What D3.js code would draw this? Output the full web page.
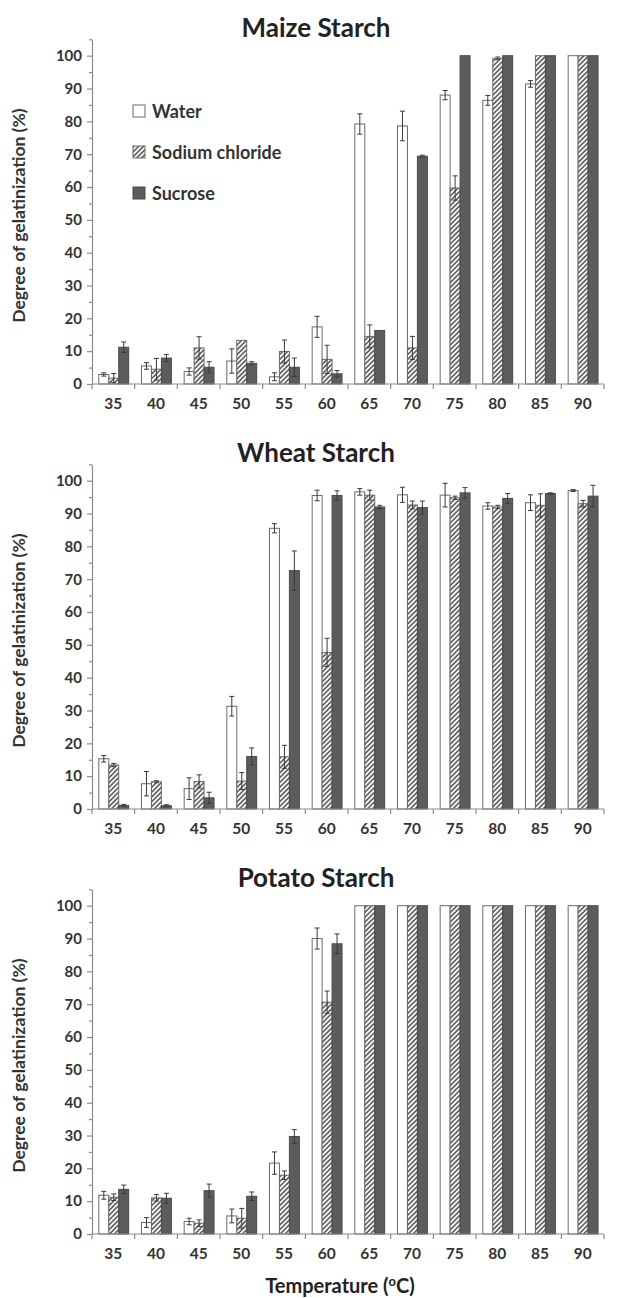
<!DOCTYPE html>
<html>
<head>
<meta charset="utf-8">
<script src="https://cdn.jsdelivr.net/npm/d3@7.9.0/dist/d3.min.js"></script>
<style>
  body { margin: 0; background: #fff; }
  svg text { font-family: Lato, "Open Sans", sans-serif; }
</style>
</head>
<body>
<svg id="chart" width="626" height="1298"></svg>
<script>
const temps = [35, 40, 45, 50, 55, 60, 65, 70, 75, 80, 85, 90];
const seriesNames = ['Water', 'Sodium chloride', 'Sucrose'];
const yTicks = [0, 10, 20, 30, 40, 50, 60, 70, 80, 90, 100];

// maize starch
const maizeWater = [2.9, 5.5, 3.8, 7.0, 2.2, 17.4, 79.2, 78.6, 88.0, 86.4, 91.4, 100];
const maizeWaterErr = [0.5, 1.0, 1.1, 3.7, 1.2, 3.2, 3.1, 4.5, 1.4, 1.5, 1.0, 0];
const maizeSalt = [1.8, 4.5, 11.0, 13.3, 9.9, 7.5, 14.5, 11.0, 59.7, 99.2, 100, 100];
const maizeSaltErr = [1.4, 3.3, 3.4, 0, 3.5, 4.3, 3.5, 3.5, 3.7, 0.4, 0, 0];
const maizeSucrose = [11.2, 7.9, 5.1, 6.3, 5.1, 3.1, 16.3, 69.4, 100, 100, 100, 100];
const maizeSucroseErr = [1.6, 1.1, 1.7, 0.5, 2.8, 1.0, 0, 0.3, 0, 0, 0, 0];

// wheat starch
const wheatWater = [15.3, 7.7, 6.2, 31.3, 85.5, 95.5, 96.6, 95.7, 95.6, 92.3, 93.3, 97.0];
const wheatWaterErr = [1.0, 3.7, 3.3, 3.0, 1.4, 1.6, 1.0, 2.3, 3.6, 1.0, 2.4, 0.3];
const wheatSalt = [13.4, 8.3, 8.4, 8.5, 15.9, 47.7, 95.6, 92.6, 94.8, 92.0, 92.5, 93.0];
const wheatSaltErr = [0.5, 0.3, 2.0, 2.6, 3.5, 4.3, 1.5, 1.2, 0.5, 0.5, 3.5, 1.0];
const wheatSucrose = [1.1, 1.0, 3.4, 16.0, 72.6, 95.5, 92.0, 91.8, 96.3, 94.6, 96.1, 95.3];
const wheatSucroseErr = [0.3, 0.3, 1.7, 2.6, 6.0, 1.4, 0.5, 2.0, 1.6, 1.5, 0.2, 3.3];

// potato starch
const potatoWater = [11.8, 3.5, 3.8, 5.5, 21.6, 90.0, 100, 100, 100, 100, 100, 100];
const potatoWaterErr = [1.2, 1.5, 1.0, 2.1, 3.4, 3.2, 0, 0, 0, 0, 0, 0];
const potatoSalt = [11.2, 11.0, 3.3, 4.8, 17.9, 70.6, 100, 100, 100, 100, 100, 100];
const potatoSaltErr = [1.0, 1.0, 1.0, 3.0, 1.3, 3.4, 0, 0, 0, 0, 0, 0];
const potatoSucrose = [13.6, 10.9, 13.2, 11.5, 29.7, 88.4, 100, 100, 100, 100, 100, 100];
const potatoSucroseErr = [1.3, 1.5, 2.0, 1.3, 2.1, 3.0, 0, 0, 0, 0, 0, 0];

const panels = [
  { title: 'Maize Starch', means: [maizeWater, maizeSalt, maizeSucrose], errs: [maizeWaterErr, maizeSaltErr, maizeSucroseErr] },
  { title: 'Wheat Starch', means: [wheatWater, wheatSalt, wheatSucrose], errs: [wheatWaterErr, wheatSaltErr, wheatSucroseErr] },
  { title: 'Potato Starch', means: [potatoWater, potatoSalt, potatoSucrose], errs: [potatoWaterErr, potatoSaltErr, potatoSucroseErr] }
];

const svg = d3.select('#chart');
const textColor = '#333';
const axisColor = '#8c8c8c';

// hatch for sodium chloride
svg.append('defs').append('pattern')
  .attr('id', 'hatch')
  .attr('patternUnits', 'userSpaceOnUse')
  .attr('width', 3.4).attr('height', 3.4)
  .attr('patternTransform', 'rotate(45)')
  .call(p => {
    p.append('rect').attr('width', 3.4).attr('height', 3.4).attr('fill', '#fff');
    p.append('line').attr('x1', 1).attr('x2', 1).attr('y1', 0).attr('y2', 3.4)
      .attr('stroke', '#4d4d4d').attr('stroke-width', 1.5);
  });

const fills = ['#fff', 'url(#hatch)', '#5c5c5c'];
const strokes = ['#6b6b6b', '#6b6b6b', '#4a4a4a'];

const x = d3.scaleBand().domain(temps).range([92, 604]);
const sub = d3.scaleBand().domain(seriesNames)
  .range([x.bandwidth() * 0.16, x.bandwidth() * 0.86]);

panels.forEach((panel, pi) => {
  const base = 384 + pi * 425;
  const y = d3.scaleLinear().domain([0, 105]).range([base, base - 105 * 3.283]);
  const g = svg.append('g');

  g.append('text')
    .attr('x', 316).attr('y', base - 347)
    .attr('text-anchor', 'middle')
    .attr('font-size', 26).attr('font-weight', 'bold')
    .attr('fill', '#222')
    .text(panel.title);

  // y axis, major + minor ticks
  const yAxis = g.append('g').attr('transform', 'translate(92,0)')
    .call(d3.axisLeft(y).tickValues(yTicks).tickSize(5).tickSizeOuter(0).tickPadding(5));
  g.append('g').attr('transform', 'translate(92,0)')
    .call(d3.axisLeft(y).tickValues(d3.range(5, 106, 10)).tickSize(3).tickFormat(''))
    .call(a => a.select('.domain').remove());
  yAxis.selectAll('text')
    .attr('font-size', 15).attr('font-weight', 'bold').attr('fill', textColor)
    .style('font-family', 'Lato, sans-serif');
  svg.selectAll('.tick line, .domain').attr('stroke', axisColor).attr('stroke-width', 1.2);

  g.append('text')
    .attr('transform', `translate(25,${(y(0) + y(105)) / 2 + 4}) rotate(-90)`)
    .attr('text-anchor', 'middle')
    .attr('font-size', 17.5).attr('font-weight', 'bold').attr('fill', textColor)
    .text('Degree of gelatinization (%)');

  // bars
  const groups = g.selectAll('g.grp')
    .data(temps)
    .join('g')
    .attr('class', 'grp')
    .attr('transform', d => `translate(${x(d)},0)`);

  seriesNames.forEach((s, si) => {
    const vals = temps.map((t, i) => ({ t, v: panel.means[si][i], e: panel.errs[si][i] }));
    groups.data(vals).append('rect')
      .attr('x', sub(s))
      .attr('y', d => y(d.v))
      .attr('width', sub.bandwidth())
      .attr('height', d => y(0) - y(d.v))
      .attr('fill', fills[si])
      .attr('stroke', strokes[si])
      .attr('stroke-width', 1);

    const eb = groups.data(vals).filter(d => d.e > 0).append('g')
      .attr('stroke', '#3a3a3a').attr('stroke-width', 1);
    const cx = sub(s) + sub.bandwidth() / 2;
    eb.append('line').attr('x1', cx).attr('x2', cx)
      .attr('y1', d => y(d.v - d.e)).attr('y2', d => y(d.v + d.e));
    eb.append('line').attr('x1', cx - 2.5).attr('x2', cx + 2.5)
      .attr('y1', d => y(d.v + d.e)).attr('y2', d => y(d.v + d.e));
    eb.append('line').attr('x1', cx - 2.5).attr('x2', cx + 2.5)
      .attr('y1', d => y(d.v - d.e)).attr('y2', d => y(d.v - d.e));
  });

  // x axis: line, ticks at band edges, labels centred
  g.append('line')
    .attr('x1', x.range()[0]).attr('x2', x.range()[1])
    .attr('y1', y(0)).attr('y2', y(0))
    .attr('stroke', axisColor).attr('stroke-width', 1.2);
  g.selectAll('line.xtick')
    .data(temps.concat(['end']))
    .join('line')
    .attr('class', 'xtick')
    .attr('x1', d => d === 'end' ? x.range()[1] : x(d))
    .attr('x2', d => d === 'end' ? x.range()[1] : x(d))
    .attr('y1', y(0)).attr('y2', y(0) + 5)
    .attr('stroke', axisColor).attr('stroke-width', 1.2);
  g.selectAll('text.xlab')
    .data(temps)
    .join('text')
    .attr('class', 'xlab')
    .attr('x', d => x(d) + x.bandwidth() / 2)
    .attr('y', y(0) + 25)
    .attr('text-anchor', 'middle')
    .attr('font-size', 15.5).attr('font-weight', 'bold').attr('fill', textColor)
    .text(d => d);
});

// legend in the maize panel
const legend = svg.append('g');
seriesNames.forEach((s, i) => {
  const cy = 111 + i * 41;
  legend.append('rect')
    .attr('x', 133).attr('y', cy - 6).attr('width', 12).attr('height', 12)
    .attr('fill', fills[i]).attr('stroke', strokes[i]).attr('stroke-width', 1);
  legend.append('text')
    .attr('x', 152).attr('y', cy + 6.5)
    .attr('font-size', 18).attr('font-weight', 'bold').attr('fill', textColor)
    .text(s);
});

// x axis title
const xt = svg.append('text')
  .attr('x', 340).attr('y', 1293)
  .attr('text-anchor', 'middle')
  .attr('font-size', 20).attr('font-weight', 'bold').attr('fill', '#222');
xt.append('tspan').text('Temperature (');
xt.append('tspan').attr('font-size', 13).attr('dy', -7).text('o');
xt.append('tspan').attr('dy', 7).text('C)');
</script>
</body>
</html>
